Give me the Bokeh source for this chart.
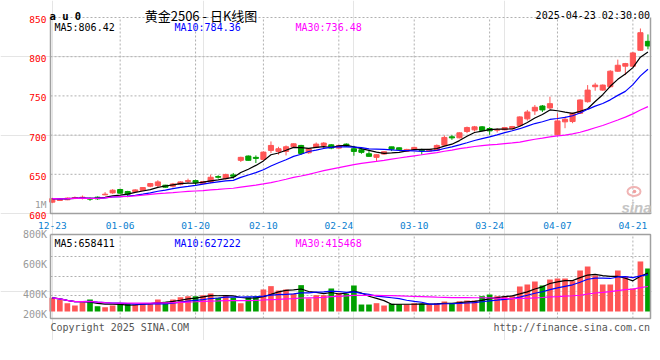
import pandas as pd
from bokeh.plotting import figure
from bokeh.models import Range1d, ColumnDataSource
from bokeh.embed import file_html
from bokeh.resources import INLINE
from bokeh.core.properties import value

# ---------------- data ----------------
holidays = ["2025-01-01", "2025-01-28", "2025-01-29", "2025-01-30", "2025-01-31",
            "2025-02-03", "2025-02-04", "2025-04-04"]
trade_days = [d for d in pd.bdate_range("2024-12-23", "2025-04-23")
              if d.strftime("%Y-%m-%d") not in holidays]
day_labels = [d.strftime("%m-%d") for d in trade_days]

tick_labels = ["12-23", "01-06", "01-20", "02-10", "02-24", "03-10", "03-24", "04-07", "04-21"]

open_ = [614.5, 616.6, 617.5, 619.6, 619.6, 619.2, 620.8, 623.8, 626.3, 630.6,
         628.0, 628.0, 629.3, 634.8, 635.6, 636.1, 634.8, 637.3, 640.7, 642.0,
         638.2, 640.3, 647.1, 644.5, 649.2, 667.8, 673.3, 671.6, 669.0, 680.5,
         679.2, 679.2, 685.1, 686.8, 677.5, 684.3, 686.8, 687.6, 683.4, 688.5,
         682.6, 681.3, 676.2, 671.6, 675.8, 685.0, 683.8, 679.2, 681.3, 681.0,
         679.6, 680.5, 687.2, 697.8, 696.5, 704.6, 706.7, 710.5, 708.4, 706.3,
         706.7, 708.0, 712.2, 720.7, 730.8, 737.1, 734.6, 700.4, 716.9, 717.3,
         727.8, 742.6, 761.7, 757.4, 761.7, 781.5, 787.9, 787.9, 808.2, 819.6]
high = [620.0, 619.5, 620.5, 621.7, 622.9, 620.4, 621.7, 627.2, 631.0, 631.0,
        628.9, 631.0, 633.5, 639.0, 642.4, 636.5, 639.0, 641.1, 644.5, 643.2,
        641.5, 649.6, 648.8, 650.9, 651.7, 672.4, 674.0, 674.1, 679.2, 691.9,
        685.1, 686.8, 689.4, 687.6, 683.4, 690.6, 691.0, 688.5, 687.6, 689.4,
        686.4, 683.4, 679.6, 675.5, 679.6, 685.1, 684.3, 682.5, 685.1, 682.6,
        682.1, 688.1, 699.5, 699.9, 703.5, 710.9, 711.7, 711.5, 710.1, 708.8,
        710.1, 711.7, 724.0, 732.1, 738.4, 738.4, 749.0, 727.8, 723.6, 728.7,
        745.6, 763.8, 766.7, 764.6, 782.8, 796.3, 792.1, 806.0, 836.0, 828.4]
low = [613.2, 616.0, 617.0, 618.3, 617.9, 616.2, 617.5, 623.4, 625.1, 625.5,
       620.8, 627.2, 628.9, 633.5, 633.1, 633.0, 633.1, 636.0, 639.0, 635.6,
       637.7, 638.6, 644.5, 643.3, 644.5, 665.7, 667.4, 664.4, 667.8, 677.1,
       675.0, 674.1, 684.7, 675.0, 676.2, 683.4, 683.4, 682.0, 682.6, 685.0,
       673.7, 676.2, 672.5, 666.9, 675.0, 679.6, 680.9, 678.8, 680.5, 675.0,
       679.0, 679.6, 686.4, 694.0, 696.0, 702.5, 704.6, 705.0, 700.4, 703.3,
       706.3, 707.5, 711.0, 718.5, 725.7, 729.5, 732.9, 699.5, 708.8, 715.2,
       727.0, 741.4, 756.6, 756.6, 760.8, 780.7, 776.5, 787.0, 807.3, 809.4]
close = [619.0, 618.3, 619.6, 620.4, 620.8, 618.3, 618.7, 624.6, 629.7, 625.9,
         624.6, 630.1, 633.1, 638.2, 640.3, 633.5, 637.7, 640.3, 642.0, 639.4,
         640.7, 646.2, 646.2, 649.6, 647.5, 671.6, 667.8, 670.3, 678.3, 686.8,
         682.6, 685.1, 688.9, 676.6, 682.6, 688.5, 689.8, 683.4, 686.8, 686.0,
         679.2, 678.0, 672.9, 675.0, 678.8, 682.1, 681.3, 681.7, 684.3, 680.1,
         681.7, 686.8, 697.0, 696.5, 702.9, 709.6, 710.5, 706.0, 705.4, 707.1,
         709.6, 710.9, 723.2, 729.5, 735.5, 732.1, 740.1, 718.1, 720.2, 727.8,
         744.8, 757.4, 763.8, 763.8, 781.5, 789.1, 791.2, 804.8, 830.6, 813.7]
volume = [233, 199, 142, 102, 159, 205, 91, 74, 102, 131,
          142, 119, 142, 142, 205, 165, 205, 245, 262, 262,
          279, 307, 233, 279, 233, 142, 245, 262, 376, 433,
          358, 376, 301, 450, 222, 279, 279, 393, 319, 301,
          444, 119, 119, 142, 102, 131, 125, 119, 142, 131,
          119, 142, 171, 142, 176, 188, 188, 262, 290, 262,
          262, 262, 427, 461, 512, 444, 546, 563, 563, 518,
          700, 768, 615, 461, 461, 700, 603, 393, 854, 734]  # thousands of lots

price_ma_text = ["MA5:806.42", "MA10:784.36", "MA30:736.48"]
vol_ma_text = ["MA5:658411", "MA10:627222", "MA30:415468"]
price_ticks = [600, 650, 700, 750, 800, 850]
vol_tick_labels = ["800K", "600K", "400K", "200K"]
title_code = "a u 0"
title_main = "黄金2506 - 日K线图"
title_time = "2025-04-23 02:30:00"

# ---------------- derived ----------------
n = len(close)
df = pd.DataFrame({"x": list(range(n)), "o": open_, "h": high, "l": low, "c": close,
                   "v": [q * 1000 for q in volume]})
RED, GREEN = "#ff5555", "#00a000"
df["col"] = [RED if c >= o else GREEN for o, c in zip(df.o, df.c)]
df["top"] = df[["o", "c"]].max(axis=1)
df["bot"] = df[["o", "c"]].min(axis=1)
for w in (5, 10, 30):
    df[f"ma{w}"] = df.c.rolling(w, min_periods=1).mean()
    df[f"vma{w}"] = df.v.rolling(w, min_periods=1).mean()
src = ColumnDataSource(df)
tick_idx = [day_labels.index(t) for t in tick_labels]

# ---------------- layout helpers (canvas pixels -> data) ----------------
W, H = 652, 340
X0, XS = 51.8, 7.54                      # canvas x of first candle, px per trading day
def PX(px):
    return (px - X0) / XS
P_TOP, P_BOT = 17.0, 213.0               # price frame (850 .. 600)
UPP = 250 / (P_BOT - P_TOP)              # price units per px
def PY(py):
    return 850 - (py - P_TOP) * UPP
V_TOP, V_BOT, V_ZERO = 234.0, 318.0, 311.0
VK = 17070.0                             # volume units per px
def VY(py):
    return (V_ZERO - py) * VK
L, R = 50.0, 650.0

MONO = value("DejaVu Sans Mono")
GRID_C = "#b0b0b0"
BORDER_C = "#a0a0a0"

p = figure(width=W, height=H, x_range=Range1d(PX(0), PX(W)), y_range=Range1d(PY(H), PY(0)),
           output_backend="svg", toolbar_location=None,
           x_axis_location=None, y_axis_location=None, min_border=0)
p.extra_y_ranges = {"vol": Range1d(VY(H), VY(0))}
p.outline_line_color = None
p.background_fill_color = "white"

def seg(x0, y0, x1, y1, rng="default", dash="solid", color=GRID_C, width=1):
    p.segment(x0=x0, y0=y0, x1=x1, y1=y1, line_color=color, line_width=width,
              line_dash=dash, y_range_name=rng)

# ---- grids ----
gx = [tick_idx[k] for k in range(1, len(tick_idx))]
seg(gx, [600] * len(gx), gx, [850] * len(gx), dash="2 2")
hg = price_ticks[1:]
seg([PX(L)] * len(hg), hg, [PX(R)] * len(hg), hg, dash="2 2")
seg(gx, [VY(V_BOT)] * len(gx), gx, [VY(V_TOP)] * len(gx), rng="vol", dash="2 2")
vg = [VY(256), VY(276), VY(295)]
seg([PX(L)] * 3, vg, [PX(R)] * 3, vg, rng="vol", dash="2 2")

# ---- price candles + MAs ----
p.segment(x0="x", x1="x", y0="l", y1="h", color="col", line_width=1, source=src)
p.vbar(x="x", width=0.68, top="top", bottom="bot", fill_color="col", line_color="col",
       line_width=1, source=src)
p.line("x", "ma5", color="black", line_width=1.2, source=src)
p.line("x", "ma10", color="#0000ff", line_width=1.2, source=src)
p.line("x", "ma30", color="#ff00ff", line_width=1.2, source=src)

# ---- volume bars + MAs ----
p.vbar(x="x", width=0.75, top="v", bottom=0, fill_color="col", line_color=None,
       source=src, y_range_name="vol")
p.line("x", "vma5", color="black", line_width=1.2, source=src, y_range_name="vol")
p.line("x", "vma10", color="#0000ff", line_width=1.2, source=src, y_range_name="vol")
p.line("x", "vma30", color="#ff00ff", line_width=1.2, source=src, y_range_name="vol")

# ---- panel borders ----
p.line([PX(L), PX(L), PX(R), PX(R)], [850, 600, 600, 850], line_color=BORDER_C, line_width=1.5)
p.line([PX(L), PX(L), PX(R), PX(R), PX(L)],
       [VY(V_TOP), VY(V_BOT), VY(V_BOT), VY(V_TOP), VY(V_TOP)],
       line_color=BORDER_C, line_width=1.5, y_range_name="vol")

# ---- sina watermark ----
p.ellipse(x=[PX(633.5)], y=[PY(191)], width=13 / XS, height=9 * UPP,
          fill_color=None, line_color="#f0b4b4", line_width=2)
p.circle(x=[PX(634)], y=[PY(191)], radius=1.8 / XS, fill_color="#f0a0a0", line_color=None)
p.text(x=[PX(651)], y=[PY(207)], text=["sina"], text_color="#c4c4c4",
       text_font=value("Liberation Sans"), text_font_size="15px",
       text_font_style="bold italic", text_align="right", text_baseline="alphabetic")

# ---- texts ----
def txt(texts, xs, ys, color="black", size="10px", align="left", font=MONO,
        style="normal", rng="default"):
    p.text(x=xs, y=ys, text=texts, text_color=color, text_font=font,
           text_font_size=size, text_align=align, text_baseline="alphabetic",
           text_font_style=style, y_range_name=rng)

txt([title_code], [PX(49)], [PY(15)], size="10.5px", style="bold")
txt([title_main], [PX(200.5)], [PY(14.5)], size="13px", align="center",
    font=value("Noto Sans CJK SC"))
txt([title_time], [PX(649.5)], [PY(15)], align="right")
txt(price_ma_text, [PX(54), PX(174), PX(295)], [PY(27)] * 3,
    color=["black", "#0000ff", "#ff00ff"])

# price tick labels (red) + volume overlay label
txt([str(t) for t in price_ticks], [PX(46)] * len(price_ticks),
    [t - 2 * UPP for t in price_ticks], color="#ff0000", size="9.5px", align="right")
txt(["1M"], [PX(46)], [PY(203.5)], color="#999999", size="9.5px", align="right")

# date labels
txt(tick_labels, tick_idx, [PY(225)] * len(tick_idx), color="#0a80d0", size="9.5px",
    align="center")

# volume panel texts
txt(vol_ma_text, [PX(54), PX(174), PX(295)], [VY(242.5)] * 3,
    color=["black", "#0000ff", "#ff00ff"], rng="vol")
txt(vol_tick_labels, [PX(46.5)] * 4, [VY(233.5), VY(264), VY(293.5), VY(313.5)],
    color="#999999", align="right", rng="vol")
txt(["Copyright 2025 SINA.COM"], [PX(50)], [VY(327)], color="#555555", rng="vol")
txt(["http://finance.sina.com.cn"], [PX(649.5)], [VY(327)], color="#555555",
    align="right", rng="vol")

open("out.html", "w").write(file_html(p, INLINE))
